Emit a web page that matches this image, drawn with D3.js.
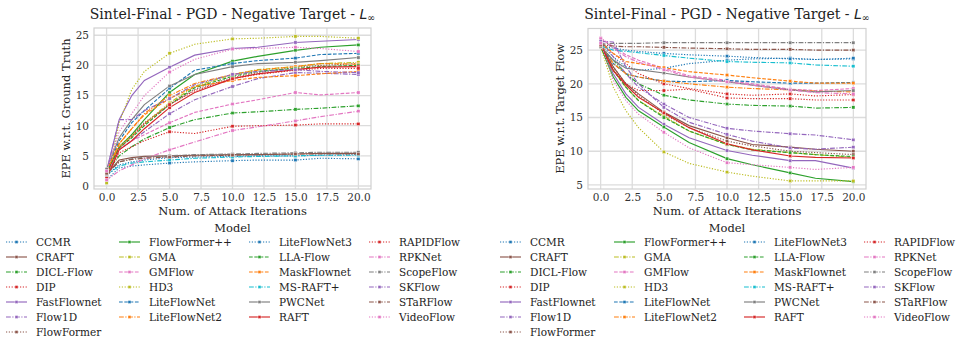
<!DOCTYPE html>
<html>
<head>
<meta charset="utf-8">
<script src="https://cdn.jsdelivr.net/npm/d3@7"></script>
<style>
  body { margin: 0; background: #fff; }
  svg text { font-family: "DejaVu Serif", serif; }
</style>
</head>
<body>
<svg id="chart" width="958" height="343"></svg>
<script>
// Attack iterations at which the EPE was recorded
const iterations = [0, 1, 2, 3, 5, 7, 10, 12, 15, 17, 20];

const models = ["CCMR", "CRAFT", "DICL-Flow", "DIP", "FastFlownet", "Flow1D", "FlowFormer",
  "FlowFormer++", "GMA", "GMFlow", "HD3", "LiteFlowNet", "LiteFlowNet2",
  "LiteFlowNet3", "LLA-Flow", "MaskFlownet", "MS-RAFT+", "PWCNet", "RAFT",
  "RAPIDFlow", "RPKNet", "ScopeFlow", "SKFlow", "STaRFlow", "VideoFlow"];

// EPE w.r.t. ground truth, one row per model (same order as models)
const epeGroundTruth = [
  [1.0, 3.0, 3.3, 3.5, 3.8, 4.0, 4.2, 4.3, 4.3, 4.6, 4.5],
  [2.0, 4.3, 4.7, 4.9, 5.0, 5.1, 5.2, 5.2, 5.3, 5.4, 5.4],
  [2.2, 5.0, 6.5, 7.8, 9.7, 11.0, 12.1, 12.3, 12.7, 12.9, 13.3],
  [1.5, 5.5, 6.5, 7.5, 9.0, 8.7, 9.9, 10.0, 10.1, 10.3, 10.3],
  [2.5, 11.0, 15.0, 17.5, 19.7, 21.7, 22.8, 23.0, 23.8, 24.0, 24.3],
  [2.0, 6.0, 7.5, 9.0, 12.0, 14.3, 16.5, 17.8, 18.8, 18.7, 18.5],
  [2.3, 6.5, 8.5, 10.5, 13.5, 16.0, 18.0, 18.8, 19.7, 20.0, 20.3],
  [2.2, 6.5, 8.5, 11.0, 15.5, 18.5, 20.7, 21.5, 22.5, 23.0, 23.4],
  [2.4, 6.5, 8.3, 10.3, 13.8, 16.5, 18.5, 19.3, 19.8, 20.3, 20.5],
  [2.0, 6.0, 7.5, 8.5, 10.5, 12.2, 13.6, 14.3, 15.5, 15.1, 15.5],
  [0.5, 10.5, 16.0, 19.0, 22.0, 23.5, 24.4, 24.5, 24.8, 24.8, 24.5],
  [2.6, 7.5, 10.5, 12.5, 16.2, 19.2, 20.3, 20.8, 21.2, 21.8, 22.0],
  [2.4, 7.0, 9.5, 12.0, 15.0, 17.0, 18.5, 19.2, 19.8, 20.3, 20.2],
  [1.8, 3.5, 4.0, 4.3, 4.7, 4.8, 4.9, 5.0, 5.0, 5.1, 5.2],
  [2.2, 6.3, 8.0, 10.0, 13.5, 16.3, 18.2, 19.0, 19.5, 19.8, 20.0],
  [2.5, 7.0, 9.5, 11.8, 14.5, 16.5, 17.5, 18.0, 18.3, 18.6, 19.0],
  [1.8, 3.3, 3.8, 4.0, 4.3, 4.6, 4.8, 4.9, 5.0, 5.1, 5.1],
  [2.8, 8.0, 11.0, 13.5, 16.6, 18.5, 19.8, 20.3, 20.5, 20.8, 21.3],
  [1.3, 6.0, 7.5, 9.5, 13.0, 15.5, 17.8, 18.6, 19.3, 19.7, 19.8],
  [2.0, 6.3, 8.2, 10.3, 13.5, 15.8, 17.8, 18.5, 19.2, 19.5, 19.5],
  [1.0, 2.5, 3.5, 4.5, 6.0, 7.3, 9.2, 9.8, 10.8, 11.5, 12.4],
  [2.0, 4.0, 4.5, 4.8, 5.0, 5.2, 5.3, 5.4, 5.5, 5.6, 5.6],
  [2.3, 11.0, 11.0, 12.5, 14.5, 16.8, 18.5, 19.0, 19.3, 19.0, 18.8],
  [2.1, 4.0, 4.4, 4.6, 4.8, 5.0, 5.1, 5.2, 5.3, 5.3, 5.3],
  [2.5, 9.0, 12.0, 15.0, 18.9, 21.0, 22.7, 22.8, 23.0, 22.8, 22.3]
];

// EPE w.r.t. the negative target flow
const epeTargetFlow = [
  [25.8, 24.0, 22.5, 22.0, 22.3, 23.0, 23.5, 23.7, 23.8, 23.6, 23.7],
  [25.9, 22.5, 20.0, 18.5, 15.8, 13.8, 12.0, 11.0, 10.6, 10.3, 10.0],
  [25.5, 23.5, 21.5, 20.0, 18.3, 17.6, 17.0, 16.8, 16.7, 16.4, 16.5],
  [26.0, 24.5, 23.0, 21.5, 20.0, 19.3, 18.5, 18.3, 18.5, 18.2, 18.4],
  [25.7, 21.5, 18.5, 16.5, 14.0, 12.0, 10.1, 9.4, 8.6, 8.6, 7.5],
  [26.5, 24.0, 21.5, 19.5, 17.0, 15.0, 13.4, 13.0, 12.6, 12.4, 11.7],
  [25.8, 22.5, 20.0, 18.3, 15.5, 13.5, 11.5, 10.8, 10.0, 9.8, 9.5],
  [25.5, 21.0, 18.0, 16.0, 13.6, 11.3, 8.9, 8.0, 6.8, 6.0, 5.5],
  [25.7, 22.0, 19.5, 17.5, 15.2, 13.0, 11.0, 10.3, 9.8, 9.5, 9.1],
  [26.8, 25.5, 24.3, 23.5, 22.3, 21.2, 20.5, 20.0, 19.2, 19.0, 19.3],
  [25.5, 19.5, 16.0, 13.5, 9.9, 8.2, 6.9, 6.3, 5.6, 5.6, 5.6],
  [25.7, 23.0, 21.5, 21.0, 20.4, 20.3, 20.5, 20.3, 20.1, 20.1, 20.2],
  [26.0, 23.0, 21.5, 21.0, 20.4, 20.0, 19.5, 19.3, 19.1, 18.9, 18.8],
  [25.7, 25.3, 25.0, 24.8, 24.5, 24.3, 24.1, 23.9, 23.7, 23.6, 23.8],
  [25.6, 22.0, 19.5, 17.5, 15.0, 13.0, 11.0, 10.2, 9.8, 9.5, 9.2],
  [26.2, 24.5, 23.3, 23.0, 22.4, 21.8, 21.3, 20.9, 20.4, 20.1, 20.1],
  [25.6, 25.0, 24.8, 24.6, 24.2, 23.8, 23.3, 23.2, 23.1, 22.8, 22.6],
  [25.5, 23.5, 22.3, 22.1, 21.6, 21.0, 20.3, 19.8, 19.1, 18.8, 19.0],
  [25.8, 22.0, 19.8, 18.0, 15.7, 13.5, 11.1, 10.2, 9.3, 9.1, 9.0],
  [25.7, 22.0, 20.0, 19.0, 19.0, 19.2, 17.9, 17.8, 17.8, 17.6, 17.6],
  [26.7, 25.3, 24.0, 23.2, 22.1, 21.0, 20.3, 19.8, 19.1, 18.7, 18.5],
  [25.9, 26.0, 26.0, 26.0, 26.1, 26.1, 26.1, 26.1, 26.1, 26.1, 26.1],
  [26.3, 26.2, 22.5, 20.0, 16.5, 14.3, 12.5, 11.5, 10.5, 10.3, 10.6],
  [25.8, 25.6, 25.5, 25.5, 25.4, 25.3, 25.2, 25.1, 25.1, 25.0, 25.0],
  [26.0, 20.5, 17.5, 15.5, 12.8, 10.5, 8.3, 8.0, 7.6, 7.3, 7.6]
];

const xTicks = [0, 2.5, 5, 7.5, 10, 12.5, 15, 17.5, 20];
const yTicksGroundTruth = [0, 5, 10, 15, 20, 25];
const yTicksTargetFlow = [5, 10, 15, 20, 25];

// Per-model colour and dash style
const palette = {
  blue: "#1f77b4", orange: "#ff7f0e", green: "#2ca02c", red: "#d62728", purple: "#9467bd",
  brown: "#8c564b", pink: "#e377c2", gray: "#7f7f7f", olive: "#bcbd22", cyan: "#17becf"
};
const modelColor = ["blue", "brown", "green", "red", "purple", "purple", "brown",
  "green", "olive", "pink", "olive", "blue", "orange",
  "blue", "green", "orange", "cyan", "gray", "red",
  "red", "pink", "gray", "purple", "brown", "pink"].map(c => palette[c]);
const dashes = {
  solid: null, dotted: "1.2,1.6", dashed: "3.7,1.6", dashdot: "4.8,1.5,1.2,1.5"
};
const modelDash = ["dotted", "solid", "dashdot", "dotted", "solid", "dashdot", "dotted",
  "solid", "dashdot", "dashed", "dotted", "dashed", "dashdot",
  "dotted", "dashed", "dashed", "dashdot", "solid", "solid",
  "dotted", "dashdot", "dashdot", "dashdot", "dashdot", "dotted"].map(d => dashes[d]);
const markerIters = [0, 5, 10, 15, 20];

const svg = d3.select("#chart");

function panel(opts) {
  const { left, right, top, bottom, yDomain, yTicks, values, yLabel, legendX } = opts;
  const x = d3.scaleLinear().domain([-1, 21]).range([left, right]);
  const y = d3.scaleLinear().domain(yDomain).range([bottom, top]);
  const g = svg.append("g");

  // grid
  g.append("g").selectAll("line.vx").data(xTicks).join("line")
    .attr("x1", d => x(d)).attr("x2", d => x(d)).attr("y1", top).attr("y2", bottom)
    .attr("stroke", "#dcdcdc").attr("stroke-width", 1.3);
  g.append("g").selectAll("line.hy").data(yTicks).join("line")
    .attr("x1", left).attr("x2", right).attr("y1", d => y(d)).attr("y2", d => y(d))
    .attr("stroke", "#dcdcdc").attr("stroke-width", 1.3);
  g.append("rect").attr("x", left).attr("y", top).attr("width", right - left).attr("height", bottom - top)
    .attr("fill", "none").attr("stroke", "#d0d0d0").attr("stroke-width", 1.2);

  // axes labels
  const xAxis = d3.axisBottom(x).tickValues(xTicks).tickFormat(d3.format(".1f")).tickSize(0).tickPadding(5);
  const ax = g.append("g").attr("transform", `translate(0,${bottom})`).call(xAxis);
  ax.select(".domain").remove();
  ax.selectAll("text").attr("font-size", 10.5).attr("fill", "#333").attr("font-family", "DejaVu Serif");
  const yAxis = d3.axisLeft(y).tickValues(yTicks).tickFormat(d3.format("d")).tickSize(0).tickPadding(5);
  const ay = g.append("g").attr("transform", `translate(${left},0)`).call(yAxis);
  ay.select(".domain").remove();
  ay.selectAll("text").attr("font-size", 10.5).attr("fill", "#333").attr("font-family", "DejaVu Serif");

  g.append("text").attr("x", (left + right) / 2).attr("y", 215).attr("text-anchor", "middle")
    .attr("font-size", 11.5).attr("fill", "#222").text("Num. of Attack Iterations");
  g.append("text").attr("transform", `translate(${left - 24},${(top + bottom) / 2}) rotate(-90)`)
    .attr("text-anchor", "middle").attr("font-size", 11.5).attr("fill", "#222").text(yLabel);

  const title = g.append("text").attr("x", (left + right) / 2).attr("y", 19).attr("text-anchor", "middle")
    .attr("font-size", 14).attr("fill", "#222");
  title.append("tspan").text("Sintel-Final - PGD - Negative Target - ");
  title.append("tspan").attr("font-style", "italic").attr("font-family", "DejaVu Sans").text("L");
  title.append("tspan").attr("font-size", 9.5).attr("dy", 2).text("∞");

  // lines
  const line = d3.line().x(d => x(d[0])).y(d => y(d[1]));
  const clipId = "clip" + left;
  g.append("clipPath").attr("id", clipId).append("rect")
    .attr("x", left).attr("y", top).attr("width", right - left).attr("height", bottom - top);
  const series = models.map((m, i) => ({
    name: m, color: modelColor[i], dash: modelDash[i],
    pts: iterations.map((it, j) => [it, values[i][j]])
  }));
  const lg = g.append("g").attr("clip-path", `url(#${clipId})`);
  lg.selectAll("path").data(series).join("path")
    .attr("d", d => line(d.pts)).attr("fill", "none")
    .attr("stroke", d => d.color).attr("stroke-width", 1.15)
    .attr("stroke-dasharray", d => d.dash);
  series.forEach(s => {
    lg.selectAll(null).data(s.pts.filter(p => markerIters.includes(p[0]))).join("rect")
      .attr("x", d => x(d[0]) - 1.6).attr("y", d => y(d[1]) - 1.6).attr("width", 3.2).attr("height", 3.2)
      .attr("fill", s.color).attr("stroke", "#fff").attr("stroke-width", 0.4);
  });

  // legend
  g.append("text").attr("x", (left + right) / 2).attr("y", 232).attr("text-anchor", "middle")
    .attr("font-size", 11.5).attr("fill", "#222").text("Model");
  const colCounts = [7, 6, 6, 6];
  let idx = 0;
  colCounts.forEach((n, c) => {
    for (let r = 0; r < n; r++, idx++) {
      const s = series[idx];
      const cx = legendX[c], cy = 242 + r * 15;
      g.append("line").attr("x1", cx).attr("x2", cx + 21).attr("y1", cy).attr("y2", cy)
        .attr("stroke", s.color).attr("stroke-width", 1.15).attr("stroke-dasharray", s.dash);
      g.append("rect").attr("x", cx + 9).attr("y", cy - 1.5).attr("width", 3).attr("height", 3)
        .attr("fill", s.color).attr("stroke", "#fff").attr("stroke-width", 0.4);
      g.append("text").attr("x", cx + 30).attr("y", cy + 4).attr("font-size", 10.5)
        .attr("fill", "#222").text(s.name);
    }
  });
}

panel({ left: 94, right: 371, top: 28, bottom: 189, yDomain: [-0.5, 26.2], yTicks: yTicksGroundTruth,
  values: epeGroundTruth, yLabel: "EPE w.r.t. Ground Truth", legendX: [6, 119, 249, 369] });
panel({ left: 588, right: 866, top: 28.5, bottom: 189, yDomain: [4.4, 28.2], yTicks: yTicksTargetFlow,
  values: epeTargetFlow, yLabel: "EPE w.r.t. Target Flow", legendX: [500, 614, 744, 864] });
</script>
</body>
</html>
